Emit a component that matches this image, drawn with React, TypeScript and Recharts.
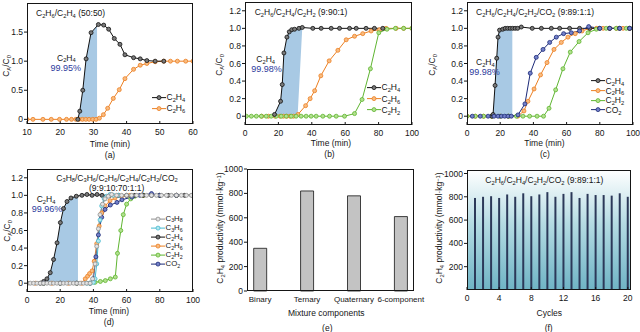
import React from 'react';
import { ComposedChart, Line, Area, XAxis, YAxis, BarChart, Bar } from 'recharts';

const FONT = '"Liberation Sans", Arial, Helvetica, sans-serif';
const INK = '#151515';
const SHADE = '#a8c9e4';
const PCT = '#2b3a9c';

// ---------- (a) C2H6/C2H4 50:50
const aC2H4T = [25.3, 25.9, 26.8, 27.8, 29.3, 31.5, 33.1, 34.6, 36.3, 38.0, 39.5, 42.1, 44.1, 46.1, 48.6, 51.2];
const aC2H4V = [0, 0.14, 0.5, 1.04, 1.49, 1.63, 1.62, 1.55, 1.39, 1.29, 1.11, 1.06, 1.04, 1.01, 1.0, 1.0];
const aC2H6T = [10, 11.8, 14.8, 17.3, 19.8, 21.9, 23.4, 24.7, 25.7, 26.7, 27.7, 28.7, 29.8, 30.8, 31.8, 33.0, 34.3, 36.0, 37.8, 39.5, 42.1, 44.1, 46.1, 48.6, 51.2, 53.2, 55.3, 57.8, 60];
const aC2H6V = [0, 0, 0, 0, 0, 0, 0, 0, 0, 0, 0, 0, 0, 0, 0.02, 0.08, 0.19, 0.36, 0.51, 0.7, 0.86, 0.93, 0.96, 0.99, 1, 1, 1, 1, 1];
const aShadeT = [25.3, 25.9, 26.8, 27.8, 29.3, 31.1];
const aShadeV = [0, 0.14, 0.5, 1.04, 1.49, 1.61];

// ---------- (b) C2H6/C2H4/C2H2 9:90:1
const bC2H4T = [17.7, 21.3, 22.3, 23.3, 25.1, 26.5, 28.0, 29.7, 32.3, 34.3, 40.6, 45.6, 51.6, 56.6, 62.6, 66.6, 72.5, 77.5, 82.5];
const bC2H4V = [0.02, 0.17, 0.36, 0.72, 0.9, 0.96, 0.985, 0.99, 1.0, 1.01, 1, 1, 1, 1, 1, 1, 1, 1, 1];
const bC2H6T = [10, 14, 18, 21, 23, 25, 27, 29, 31.7, 36.3, 39.0, 41.7, 45.4, 50.4, 55.6, 60.6, 65.6, 70.5, 75.5, 80.5, 84.5, 90.5, 95, 100];
const bC2H6V = [0, 0, 0, 0, 0, 0, 0, 0, 0.02, 0.12, 0.2, 0.29, 0.46, 0.63, 0.75, 0.87, 0.91, 0.94, 0.97, 0.985, 1, 1, 1, 1];
const bC2H2T = [0.8, 3.8, 6.8, 9.8, 12.7, 15.7, 18.7, 21.7, 24.7, 27.7, 30.6, 33.6, 36.6, 39.6, 42.6, 46.6, 50.6, 54.6, 59.6, 65.6, 70.1, 75.1, 80.1, 85, 90.1, 95, 100];
const bC2H2V = [0, 0, 0, 0, 0, 0, 0, 0, 0, 0, 0, 0, 0, 0, 0, 0, 0, 0, 0, 0.03, 0.19, 0.54, 0.95, 0.99, 1, 1, 1];
const bShadeT = [17.7, 21.3, 22.3, 23.3, 25.1, 26.5, 28.0, 29.7, 31.5, 34.3];
const bShadeHi = [0.02, 0.17, 0.36, 0.72, 0.9, 0.96, 0.985, 0.99, 1.0, 1.01];
const bShadeLo = [0, 0, 0, 0, 0, 0, 0, 0, 0, 1.01];

// ---------- (c) C2H6/C2H4/C2H2/CO2 9:89:1:1
const cC2H4T = [15.0, 15.7, 16.9, 17.9, 18.7, 19.6, 21.5, 23.0, 24.5, 26.0, 27.5, 29.0, 30.5, 32.7, 39.3, 44.8, 50.8, 55.8, 61.8, 67.8, 73.9, 79.9, 85.9, 91.9, 97.9];
const cC2H4V = [0, 0.02, 0.35, 0.66, 0.9, 0.98, 0.99, 1, 1, 1, 1, 1, 1, 1.015, 1, 1, 1, 1, 1, 1, 1, 1, 1, 1, 1];
const cC2H6T = [0, 5, 10, 15, 20, 25, 30.6, 34.3, 36.7, 40.4, 44.3, 48.2, 52.4, 56.8, 60.8, 65.2, 69.3, 73.9, 78, 82, 86, 90, 94, 98];
const cC2H6V = [0, 0, 0, 0, 0, 0, 0, 0.06, 0.17, 0.31, 0.47, 0.61, 0.76, 0.84, 0.9, 0.94, 0.97, 1.0, 1, 1, 1, 1, 1, 1];
const cC2H2T = [0, 5, 10, 15, 20, 25, 29.8, 33.7, 37.7, 42.2, 46.1, 49.4, 53.4, 57.8, 62.2, 67.5, 72.9, 77.9, 83.9, 89.9, 96, 100];
const cC2H2V = [0, 0, 0, 0, 0, 0, 0, 0, 0, 0, 0, 0.09, 0.3, 0.54, 0.73, 0.85, 0.95, 0.99, 1, 1, 1, 1];
const cCO2T = [3.2, 8.0, 12.7, 16.3, 18.7, 20.7, 22.7, 24.7, 26.7, 30.7, 34.9, 38.1, 41.7, 45.8, 49.8, 53.8, 58.2, 62.8, 67.8, 73.3, 80, 86, 92, 98];
const cCO2V = [0, 0, 0, 0, 0, 0, 0, 0, 0, 0.015, 0.14, 0.49, 0.67, 0.76, 0.84, 0.9, 0.94, 0.95, 0.97, 1.02, 1, 1, 1, 1];
const cShadeT = [15.0, 15.7, 16.9, 17.9, 18.7, 19.6, 21.5, 23.0, 24.5, 26.0, 27.3];
const cShadeV = [0, 0.02, 0.35, 0.66, 0.9, 0.98, 0.99, 1, 1, 1, 1];

// ---------- (d) six-component
const dC3H8T = [0, 2, 4, 6, 8, 10, 12, 14, 16, 18, 20, 22, 24, 26, 28, 30, 32, 34, 36, 38, 39.5, 41, 42, 43, 44, 45.5, 47, 49, 51, 54, 57, 60, 63, 66, 69, 72, 75, 78, 81, 84, 87, 90, 93, 96, 99];
const dC3H8V = [0, 0, 0, 0, 0, 0, 0, 0, 0, 0, 0, 0, 0, 0, 0, 0, 0, 0, 0, 0, 0.05, 0.22, 0.42, 0.62, 0.78, 0.9, 0.96, 0.99, 1.01, 1, 1, 1, 1, 1, 1, 1, 1, 1, 1, 1, 1, 1, 1, 1, 1];
const dC3H6T = [36, 38, 40, 41, 42, 43, 44, 45, 46.5, 48, 50, 52, 55];
const dC3H6V = [0, 0, 0.01, 0.05, 0.22, 0.48, 0.72, 0.88, 0.96, 0.99, 1.01, 1.0, 1.0];
const dC2H4T = [8, 10.0, 12.0, 14.0, 16.0, 18.1, 20.1, 22.0, 24.1, 26.5, 29.7, 33.1, 36.1, 39.2, 42.2, 45.2, 50, 55, 60, 65, 70, 75, 80, 85, 90, 95, 100];
const dC2H4V = [0, 0.02, 0.05, 0.12, 0.27, 0.46, 0.69, 0.85, 0.93, 0.97, 0.99, 1.0, 1.01, 1.0, 1.01, 1.0, 1, 1, 1, 1, 1, 1, 1, 1, 1, 1, 1];
const dC2H6T = [0, 5, 10, 15, 20, 25, 30, 33, 35.1, 36.5, 37.7, 39.2, 40.5, 42, 43.5, 45, 47, 50, 53, 57, 62, 70, 80, 90, 100];
const dC2H6V = [0, 0, 0, 0, 0, 0, 0, 0, 0.05, 0.08, 0.11, 0.14, 0.25, 0.45, 0.65, 0.8, 0.88, 0.94, 0.97, 0.99, 1.0, 1, 1, 1, 1];
const dC2H2T = [0, 10, 20, 30, 38, 41, 44.2, 47.2, 50.2, 53.2, 54.5, 56.5, 58, 60, 62.5, 65, 70, 80, 90, 100];
const dC2H2V = [0, 0, 0, 0, 0, 0.01, 0.02, 0.03, 0.05, 0.07, 0.34, 0.6, 0.78, 0.9, 0.96, 0.99, 1.0, 1, 1, 1];
const dCO2T = [0, 10, 20, 30, 38, 40, 41.5, 43, 45, 47, 50.2, 54.2, 57.2, 63.2, 68, 75, 80, 90, 100];
const dCO2V = [0, 0, 0, 0, 0, 0.05, 0.3, 0.55, 0.75, 0.84, 0.89, 0.92, 0.95, 0.98, 1.0, 1.02, 1.0, 1.0, 1.0];
const dShadeT = [8, 10.0, 12.0, 14.0, 16.0, 18.1, 20.1, 22.0, 24.1, 26.5, 29.7, 30.7];
const dShadeV = [0, 0.02, 0.05, 0.12, 0.27, 0.46, 0.69, 0.85, 0.93, 0.97, 0.99, 0.995];

// ---------- (e) productivity vs mixture
const eCats = ['Binary', 'Ternary', 'Quaternary', '6-component'];
const eValues = [350, 820, 780, 610];
const eTicks = [0, 200, 400, 600, 800, 1000];

// ---------- (f) cycling
const fCycles = [1, 2, 3, 4, 5, 6, 7, 8, 9, 10, 11, 12, 13, 14, 15, 16, 17, 18, 19, 20];
const fValues = [790, 800, 805, 790, 820, 800, 830, 805, 820, 840, 800, 825, 840, 790, 825, 815, 815, 810, 830, 800];
const fXTicks = [0, 4, 8, 12, 16, 20];
const fYTicks = [200, 400, 600, 800, 1000];

const timeTicks = [0, 20, 40, 60, 80, 100];
const ratioTicks = [0, 0.2, 0.4, 0.6, 0.8, 1.0, 1.2];

type Gas = 'C2H4' | 'C2H6' | 'C2H2' | 'CO2' | 'C3H8' | 'C3H6';
const gasStyle: Record<Gas, { stroke: string; fill: string }> = {
  C2H4: { stroke: '#111111', fill: '#7a7a7a' },
  C2H6: { stroke: '#ec7f22', fill: '#f8bb80' },
  C2H2: { stroke: '#5fb531', fill: '#b2e08e' },
  CO2: { stroke: '#1c2a78', fill: '#7381c8' },
  C3H8: { stroke: '#8e8e8e', fill: '#e4e4e4' },
  C3H6: { stroke: '#45b9cf', fill: '#b4e8f0' },
};

const toPts = (t: number[], v: number[]) => t.map((x, i) => ({ t: x, v: v[i] }));

const sub: React.CSSProperties = { fontSize: '0.68em', position: 'relative', top: '0.3em' };
const sup: React.CSSProperties = { fontSize: '0.68em', position: 'relative', top: '-0.4em' };

// digits that follow a letter are subscripts (C2H4 -> C₂H₄)
const Chem = ({ s }: { s: string }) => {
  const out: React.ReactNode[] = [];
  let afterLetter = false;
  s.split('').forEach((ch, i) => {
    if (/\d/.test(ch) && afterLetter) {
      out.push(<span key={i} style={sub}>{ch}</span>);
    } else {
      out.push(<React.Fragment key={i}>{ch}</React.Fragment>);
      afterLetter = /[A-Za-z]/.test(ch);
    }
  });
  return <>{out}</>;
};

type TProps = { x: number; y: number; children: React.ReactNode; mid?: boolean; size?: number; color?: string };
const T = ({ x, y, children, mid = false, size = 8.5, color = INK }: TProps) => (
  <div
    style={{
      position: 'absolute', left: x, top: y, fontSize: size, lineHeight: 1, color, whiteSpace: 'nowrap',
      transform: mid ? 'translate(-50%,-50%)' : 'translateY(-50%)',
    }}
  >
    {children}
  </div>
);

const VT = ({ x, y, children }: { x: number; y: number; children: React.ReactNode }) => (
  <div
    style={{
      position: 'absolute', left: x, top: y, fontSize: 8.5, lineHeight: 1, whiteSpace: 'nowrap',
      transform: 'translate(-50%,-50%) rotate(-90deg)',
    }}
  >
    {children}
  </div>
);

const Ratio = () => (
  <>C<span style={sub}>A</span>/C<span style={sub}>0</span></>
);

const Prod = () => (
  <>
    C<span style={sub}>2</span>H<span style={sub}>4</span> productivity (mmol·kg<span style={sup}>−1</span>)
  </>
);

const LegendRow = ({ x, y, gas, size = 8.5 }: { x: number; y: number; gas: Gas; size?: number }) => {
  const s = gasStyle[gas];
  return (
    <div style={{ position: 'absolute', left: x, top: y, transform: 'translateY(-50%)', display: 'flex', alignItems: 'center', fontSize: size, lineHeight: 1 }}>
      <svg width={14} height={6} style={{ display: 'block' }}>
        <line x1={0} y1={3} x2={14} y2={3} stroke={s.stroke} strokeWidth={1} />
        <circle cx={7} cy={3} r={2} fill={s.fill} stroke={s.stroke} strokeWidth={0.8} />
      </svg>
      <span style={{ marginLeft: 1 }}><Chem s={gas} /></span>
    </div>
  );
};

type Rect = { x0: number; y0: number; x1: number; y1: number };
const YW = 26;
const MT = 4;
const MR = 16;
const XH = 16;

const tickStyle = { fontSize: 8.5, fill: INK, fontFamily: FONT };
const catTickStyle = { fontSize: 8, fill: INK, fontFamily: FONT };
const fmtRatio = (v: number) => (v === 0 ? '0' : v.toFixed(1));

const Frame = ({ r }: { r: Rect }) => (
  <div style={{ position: 'absolute', left: r.x0, top: r.y0, width: r.x1 - r.x0, height: r.y1 - r.y0, border: `1px solid ${INK}`, boxSizing: 'border-box' }} />
);

type Series = { gas: Gas; t: number[]; v: number[] };
type LinePanelProps = {
  r: Rect;
  xDomain: [number, number];
  xTicks: number[];
  yDomain: [number, number];
  yTicks: number[];
  series: Series[];
  shade: React.ReactNode;
};

const LinePanel = ({ r, xDomain, xTicks, yDomain, yTicks, series, shade }: LinePanelProps) => (
  <>
    <div style={{ position: 'absolute', left: r.x0 - YW, top: r.y0 - MT }}>
      <ComposedChart width={r.x1 - r.x0 + YW + MR} height={r.y1 - r.y0 + MT + XH} margin={{ top: MT, right: MR, bottom: 0, left: 0 }}>
        <XAxis
          type="number" dataKey="t" domain={xDomain} ticks={xTicks} interval={0} height={XH}
          axisLine={false} tickSize={-3} tickMargin={8} tick={tickStyle} tickLine={{ stroke: INK }} allowDataOverflow
        />
        <YAxis
          type="number" domain={yDomain} ticks={yTicks} interval={0} width={YW}
          axisLine={false} tickSize={3} tickMargin={1} tick={tickStyle} tickLine={{ stroke: INK }}
          tickFormatter={fmtRatio} allowDataOverflow
        />
        {shade}
        {series.map((s) => (
          <Line
            key={s.gas}
            data={toPts(s.t, s.v)}
            dataKey="v"
            type="linear"
            stroke={gasStyle[s.gas].stroke}
            strokeWidth={1}
            dot={{ r: 2, fill: gasStyle[s.gas].fill, stroke: gasStyle[s.gas].stroke, strokeWidth: 0.8 }}
            activeDot={false}
            isAnimationActive={false}
          />
        ))}
      </ComposedChart>
    </div>
    <Frame r={r} />
  </>
);

const shadeArea = (t: number[], v: number[]) => (
  <Area
    data={toPts(t, v)} dataKey="v" type="linear" stroke="none" fill={SHADE} fillOpacity={1}
    baseValue={0} dot={false} activeDot={false} isAnimationActive={false}
  />
);

const rA: Rect = { x0: 27, y0: 3, x1: 193, y1: 124 };
const rB: Rect = { x0: 245, y0: 2, x1: 412, y1: 125 };
const rC: Rect = { x0: 467, y0: 2, x1: 633, y1: 125 };
const rD: Rect = { x0: 27, y0: 169, x1: 193, y1: 292 };
const rE: Rect = { x0: 247, y0: 169, x1: 414, y1: 291 };
const rF: Rect = { x0: 467, y0: 170, x1: 631, y1: 290 };

const eData = eCats.map((c, i) => ({ i: i + 1, v: eValues[i] }));
const fData = fCycles.map((c, i) => ({ c, v: fValues[i] }));

export default function App() {
  const bShade = (
    <Area
      data={bShadeT.map((t, i) => ({ t, r: [bShadeLo[i], bShadeHi[i]] }))}
      dataKey="r" type="linear" stroke="none" fill={SHADE} fillOpacity={1}
      dot={false} activeDot={false} isAnimationActive={false}
    />
  );

  return (
    <div style={{ position: 'absolute', left: 0, top: 0, width: 640, height: 332, background: '#fff', fontFamily: FONT, color: INK, overflow: 'hidden' }}>
      {/* (a) */}
      <LinePanel
        r={rA} xDomain={[10, 60]} xTicks={[10, 20, 30, 40, 50, 60]} yDomain={[-0.08, 2.0]} yTicks={[0, 0.5, 1.0, 1.5]}
        shade={shadeArea(aShadeT, aShadeV)}
        series={[{ gas: 'C2H6', t: aC2H6T, v: aC2H6V }, { gas: 'C2H4', t: aC2H4T, v: aC2H4V }]}
      />
      <T x={36} y={13}><Chem s="C2H6/C2H4 (50:50)" /></T>
      <T x={57} y={57.5}><Chem s="C2H4" /></T>
      <T x={50.5} y={68} size={9} color={PCT}>99.95%</T>
      <LegendRow x={151.5} y={97.3} gas="C2H4" />
      <LegendRow x={151.5} y={108.3} gas="C2H6" />
      <VT x={6} y={66}><Ratio /></VT>
      <T x={110} y={143.5} mid>Time (min)</T>
      <T x={110} y={155} mid>(a)</T>

      {/* (b) */}
      <LinePanel
        r={rB} xDomain={[0, 100]} xTicks={timeTicks} yDomain={[-0.1, 1.3]} yTicks={ratioTicks}
        shade={bShade}
        series={[
          { gas: 'C2H6', t: bC2H6T, v: bC2H6V },
          { gas: 'C2H2', t: bC2H2T, v: bC2H2V },
          { gas: 'C2H4', t: bC2H4T, v: bC2H4V },
        ]}
      />
      <T x={254.7} y={12.3}><Chem s="C2H6/C2H4/C2H2 (9:90:1)" /></T>
      <T x={256.3} y={59.3}><Chem s="C2H4" /></T>
      <T x={251.3} y={69} size={9} color={PCT}>99.98%</T>
      <LegendRow x={366.5} y={87.3} gas="C2H4" />
      <LegendRow x={366.5} y={99} gas="C2H6" />
      <LegendRow x={366.5} y={110} gas="C2H2" />
      <VT x={219} y={65}><Ratio /></VT>
      <T x={331} y={142.7} mid>Time (min)</T>
      <T x={329.5} y={154} mid>(b)</T>

      {/* (c) */}
      <LinePanel
        r={rC} xDomain={[0, 100]} xTicks={timeTicks} yDomain={[-0.1, 1.3]} yTicks={ratioTicks}
        shade={shadeArea(cShadeT, cShadeV)}
        series={[
          { gas: 'C2H6', t: cC2H6T, v: cC2H6V },
          { gas: 'C2H2', t: cC2H2T, v: cC2H2V },
          { gas: 'C2H4', t: cC2H4T, v: cC2H4V },
          { gas: 'CO2', t: cCO2T, v: cCO2V },
        ]}
      />
      <T x={476} y={12.3}><Chem s="C2H6/C2H4/C2H2/CO2 (9:89:1:1)" /></T>
      <T x={476} y={62}><Chem s="C2H4" /></T>
      <T x={469.3} y={72.3} size={9} color={PCT}>99.98%</T>
      <LegendRow x={590.5} y={81} gas="C2H4" />
      <LegendRow x={590.5} y={90.7} gas="C2H6" />
      <LegendRow x={590.5} y={100.3} gas="C2H2" />
      <LegendRow x={590.5} y={110} gas="CO2" />
      <VT x={432} y={65}><Ratio /></VT>
      <T x={544.5} y={143} mid>Time (min)</T>
      <T x={545} y={154} mid>(c)</T>

      {/* (d) */}
      <LinePanel
        r={rD} xDomain={[0, 100]} xTicks={timeTicks} yDomain={[-0.1, 1.3]} yTicks={ratioTicks}
        shade={shadeArea(dShadeT, dShadeV)}
        series={[
          { gas: 'C2H6', t: dC2H6T, v: dC2H6V },
          { gas: 'C2H2', t: dC2H2T, v: dC2H2V },
          { gas: 'C2H4', t: dC2H4T, v: dC2H4V },
          { gas: 'CO2', t: dCO2T, v: dCO2V },
          { gas: 'C3H6', t: dC3H6T, v: dC3H6V },
          { gas: 'C3H8', t: dC3H8T, v: dC3H8V },
        ]}
      />
      <T x={117} y={177.7} mid><Chem s="C3H8/C3H6/C2H6/C2H4/C2H2/CO2" /></T>
      <T x={116.7} y={187.7} mid>(9:9:10:70:1:1)</T>
      <T x={36.7} y={199.3}><Chem s="C2H4" /></T>
      <T x={31.7} y={209.3} size={9} color={PCT}>99.96%</T>
      <LegendRow x={150.5} y={218.7} gas="C3H8" size={7.8} />
      <LegendRow x={150.5} y={228} gas="C3H6" size={7.8} />
      <LegendRow x={150.5} y={237} gas="C2H4" size={7.8} />
      <LegendRow x={150.5} y={246} gas="C2H6" size={7.8} />
      <LegendRow x={150.5} y={255.3} gas="C2H2" size={7.8} />
      <LegendRow x={150.5} y={264.3} gas="CO2" size={7.8} />
      <VT x={7} y={231}><Ratio /></VT>
      <T x={109} y={311} mid>Time (min)</T>
      <T x={109} y={321.5} mid>(d)</T>

      {/* (e) */}
      <div style={{ position: 'absolute', left: rE.x0 - YW, top: rE.y0 - MT }}>
        <BarChart width={rE.x1 - rE.x0 + YW + MR} height={rE.y1 - rE.y0 + MT + XH} data={eData} margin={{ top: MT, right: MR, bottom: 0, left: 0 }}>
          <XAxis
            type="number" dataKey="i" domain={[0.72, 4.28]} ticks={[1, 2, 3, 4]} interval={0} height={XH}
            axisLine={false} tickLine={false} tickSize={-3} tickMargin={8} tick={catTickStyle}
            tickFormatter={(i: number) => eCats[i - 1]} allowDataOverflow
          />
          <YAxis
            type="number" domain={[0, 1000]} ticks={eTicks} interval={0} width={YW}
            axisLine={false} tickSize={3} tickMargin={1} tick={tickStyle} tickLine={{ stroke: INK }}
          />
          <Bar dataKey="v" barSize={13} fill="#c3c3c3" stroke={INK} strokeWidth={0.8} isAnimationActive={false} />
        </BarChart>
      </div>
      <Frame r={rE} />
      <VT x={219.5} y={228}><Prod /></VT>
      <T x={326.3} y={312.5} mid>Mixture components</T>
      <T x={327.3} y={327.5} mid>(e)</T>

      {/* (f) */}
      <div
        style={{
          position: 'absolute', left: rF.x0, top: rF.y0, width: rF.x1 - rF.x0, height: rF.y1 - rF.y0,
          background: 'linear-gradient(to bottom, #ffffff 0%, #b4dbe3 45%, #6fb4c5 100%)',
        }}
      />
      <div style={{ position: 'absolute', left: rF.x0 - YW, top: rF.y0 - MT }}>
        <BarChart width={rF.x1 - rF.x0 + YW + MR} height={rF.y1 - rF.y0 + MT + XH} data={fData} margin={{ top: MT, right: MR, bottom: 0, left: 0 }}>
          <XAxis
            type="number" dataKey="c" domain={[0, 20.4]} ticks={fXTicks} interval={0} height={XH}
            axisLine={false} tickSize={-3} tickMargin={8} tick={tickStyle} tickLine={{ stroke: INK }} allowDataOverflow
          />
          <YAxis
            type="number" domain={[0, 1030]} ticks={fYTicks} interval={0} width={YW}
            axisLine={false} tickSize={3} tickMargin={1} tick={tickStyle} tickLine={{ stroke: INK }} allowDataOverflow
          />
          <Bar dataKey="v" barSize={2} fill="#2c3959" isAnimationActive={false} />
        </BarChart>
      </div>
      <Frame r={rF} />
      <T x={485.3} y={180}><Chem s="C2H6/C2H4/C2H2/CO2 (9:89:1:1)" /></T>
      <VT x={439} y={228}><Prod /></VT>
      <T x={549.3} y={312.5} mid>Cycles</T>
      <T x={548.7} y={327.5} mid>(f)</T>
    </div>
  );
}
